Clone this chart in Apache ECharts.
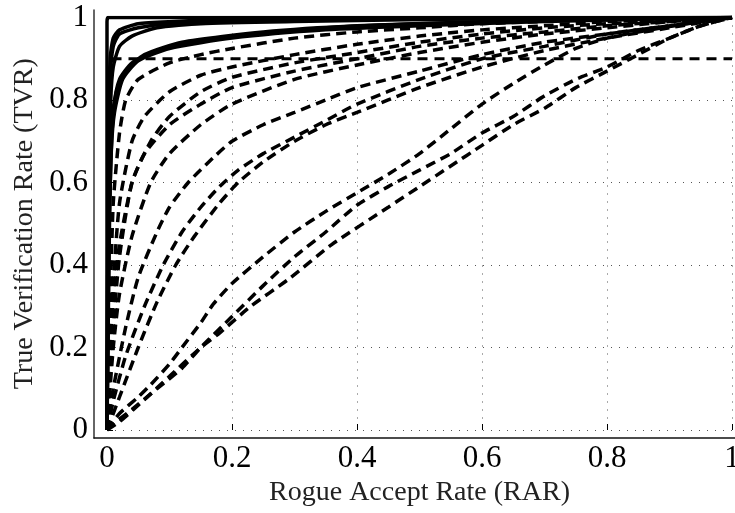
<!DOCTYPE html>
<html>
<head>
<meta charset="utf-8">
<script src="https://cdn.jsdelivr.net/npm/echarts@6/dist/echarts.min.js"></script>
<style>
  html, body { margin: 0; padding: 0; background: #fff; }
  #chart { width: 735px; height: 513px; }
</style>
</head>
<body>
<div id="chart"></div>
<script>
// Axis ticks and titles
const xTicks = [0, 0.2, 0.4, 0.6, 0.8, 1];
const yTicks = [0, 0.2, 0.4, 0.6, 0.8, 1];
const xTitle = 'Rogue Accept Rate (RAR)';
const yTitle = 'True Verification Rate (TVR)';

// Target verification level
const tvrTarget = [[-0.02, 0.9], [1, 0.9]];

// Solid ROC curves: [RAR, TVR]
const solid1 = [[0, 0], [0, 0.99], [0.002, 1], [0.5, 1], [1, 1]];
const solid2 = [[0, 0], [0.002, 0.7], [0.005, 0.9], [0.01, 0.95], [0.02, 0.97], [0.05, 0.985], [0.1, 0.99], [0.2, 0.995], [0.5, 0.998], [1, 1]];
const solid3 = [[0, 0], [0.002, 0.6], [0.005, 0.85], [0.01, 0.93], [0.02, 0.96], [0.05, 0.975], [0.1, 0.985], [0.2, 0.99], [0.4, 0.995], [1, 1]];
const solid4 = [[0, 0], [0.003, 0.6], [0.006, 0.8], [0.01, 0.88], [0.02, 0.93], [0.04, 0.955], [0.08, 0.975], [0.15, 0.985], [0.3, 0.99], [0.6, 0.997], [1, 1]];
const solid5 = [[0, 0], [0.003, 0.5], [0.006, 0.7], [0.01, 0.78], [0.02, 0.85], [0.04, 0.89], [0.08, 0.92], [0.13, 0.94], [0.24, 0.96], [0.37, 0.977], [0.5, 0.985], [0.7, 0.993], [1, 1]];
const solid6 = [[0, 0], [0.003, 0.45], [0.007, 0.68], [0.012, 0.77], [0.025, 0.85], [0.05, 0.895], [0.1, 0.925], [0.2, 0.95], [0.35, 0.97], [0.5, 0.98], [0.7, 0.99], [1, 1]];
const solid7 = [[0, 0], [0.004, 0.5], [0.008, 0.72], [0.015, 0.82], [0.03, 0.87], [0.06, 0.91], [0.12, 0.94], [0.25, 0.965], [0.4, 0.98], [0.6, 0.99], [1, 1]];

// Dashed ROC curves: [RAR, TVR]
const dashA1 = [[0, 0], [0.005, 0.3], [0.01, 0.55], [0.02, 0.72], [0.03, 0.8], [0.05, 0.85], [0.1, 0.89], [0.15, 0.91], [0.2, 0.925], [0.3, 0.95], [0.4, 0.965], [0.5, 0.975], [0.6, 0.985], [0.8, 0.995], [1, 1]];
const dashA2 = [[0, 0], [0.01, 0.35], [0.02, 0.55], [0.04, 0.7], [0.06, 0.76], [0.1, 0.82], [0.15, 0.86], [0.2, 0.88], [0.3, 0.91], [0.4, 0.935], [0.5, 0.955], [0.6, 0.97], [0.7, 0.98], [0.8, 0.99], [1, 1]];
const dashA3 = [[0, 0], [0.01, 0.25], [0.02, 0.42], [0.04, 0.6], [0.07, 0.7], [0.1, 0.76], [0.15, 0.82], [0.2, 0.855], [0.3, 0.89], [0.4, 0.915], [0.5, 0.94], [0.6, 0.96], [0.7, 0.975], [0.8, 0.985], [1, 1]];
const dashB1 = [[0, 0], [0.005, 0.2], [0.01, 0.32], [0.02, 0.45], [0.04, 0.6], [0.06, 0.67], [0.1, 0.74], [0.15, 0.79], [0.2, 0.83], [0.3, 0.87], [0.4, 0.9], [0.5, 0.93], [0.6, 0.95], [0.7, 0.965], [0.8, 0.98], [0.9, 0.99], [1, 1]];
const dashB2 = [[0, 0], [0.01, 0.2], [0.02, 0.33], [0.04, 0.47], [0.07, 0.6], [0.1, 0.67], [0.15, 0.74], [0.2, 0.79], [0.3, 0.85], [0.4, 0.885], [0.5, 0.915], [0.6, 0.94], [0.7, 0.96], [0.8, 0.975], [0.9, 0.99], [1, 1]];
const dashB3 = [[0, 0], [0.01, 0.1], [0.03, 0.25], [0.05, 0.37], [0.08, 0.48], [0.1, 0.54], [0.13, 0.6], [0.17, 0.66], [0.2, 0.7], [0.25, 0.74], [0.3, 0.77], [0.35, 0.8], [0.4, 0.83], [0.5, 0.87], [0.6, 0.91], [0.7, 0.94], [0.8, 0.96], [0.9, 0.98], [1, 1]];
const dashB4 = [[0, 0], [0.01, 0.07], [0.03, 0.18], [0.06, 0.3], [0.09, 0.4], [0.12, 0.48], [0.15, 0.54], [0.18, 0.59], [0.21, 0.63], [0.25, 0.67], [0.3, 0.71], [0.35, 0.75], [0.4, 0.79], [0.5, 0.85], [0.6, 0.9], [0.7, 0.93], [0.8, 0.96], [0.9, 0.98], [1, 1]];
const dashB5 = [[0, 0], [0.02, 0.08], [0.05, 0.2], [0.08, 0.31], [0.11, 0.4], [0.14, 0.47], [0.18, 0.55], [0.21, 0.6], [0.25, 0.65], [0.3, 0.7], [0.35, 0.74], [0.4, 0.77], [0.5, 0.83], [0.6, 0.88], [0.7, 0.92], [0.8, 0.95], [0.9, 0.975], [1, 1]];
const dashL1 = [[0, 0], [0.02, 0.04], [0.05, 0.08], [0.07, 0.11], [0.1, 0.16], [0.12, 0.2], [0.15, 0.26], [0.17, 0.305], [0.2, 0.355], [0.25, 0.42], [0.3, 0.48], [0.35, 0.53], [0.4, 0.575], [0.45, 0.62], [0.5, 0.67], [0.55, 0.73], [0.6, 0.79], [0.65, 0.84], [0.7, 0.885], [0.75, 0.925], [0.8, 0.95], [0.85, 0.965], [0.9, 0.978], [0.95, 0.99], [1, 1]];
const dashL2 = [[0, 0], [0.01, 0.015], [0.04, 0.05], [0.08, 0.1], [0.12, 0.15], [0.15, 0.2], [0.2, 0.275], [0.25, 0.35], [0.3, 0.42], [0.35, 0.48], [0.4, 0.545], [0.45, 0.59], [0.5, 0.63], [0.55, 0.67], [0.6, 0.72], [0.65, 0.76], [0.7, 0.81], [0.75, 0.85], [0.8, 0.88], [0.85, 0.92], [0.9, 0.95], [0.95, 0.98], [1, 1]];
const dashL3 = [[0, 0], [0.02, 0.02], [0.05, 0.06], [0.1, 0.13], [0.15, 0.2], [0.18, 0.235], [0.23, 0.3], [0.29, 0.365], [0.36, 0.45], [0.45, 0.54], [0.5, 0.59], [0.55, 0.64], [0.6, 0.69], [0.65, 0.74], [0.7, 0.78], [0.75, 0.83], [0.8, 0.87], [0.85, 0.91], [0.9, 0.95], [0.95, 0.98], [1, 1]];

const solidCurves = [solid1, solid2, solid3, solid4, solid5, solid6, solid7];
const dashedCurves = [dashA1, dashA2, dashA3, dashB1, dashB2, dashB3, dashB4, dashB5, dashL1, dashL2, dashL3];

const serif = 'Liberation Serif';

function curve(data, dashed) {
  return {
    type: 'line',
    xAxisIndex: 0,
    yAxisIndex: 0,
    data: data,
    showSymbol: false,
    smooth: 0.2,
    silent: true,
    animation: false,
    lineStyle: {
      color: '#000',
      width: 3.5,
      type: dashed ? [10, 6] : 'solid',
      cap: 'butt'
    }
  };
}

const series = [];
dashedCurves.forEach(d => series.push(curve(d, true)));
solidCurves.forEach(d => series.push(curve(d, false)));
// the 0.9 target line runs from the frame edge, so it is not clipped
series.push({
  type: 'line', xAxisIndex: 0, yAxisIndex: 0, data: tvrTarget,
  showSymbol: false, silent: true, animation: false, clip: false,
  lineStyle: { color: '#000', width: 3, type: [10, 7] }
});

const chart = echarts.init(document.getElementById('chart'), null, { renderer: 'canvas' });
chart.setOption({
  backgroundColor: '#fff',
  animation: false,
  grid: [
    { left: 107, right: 3, top: 17.5, bottom: 83, outerBoundsMode: 'none', containLabel: false },
    { left: 94, right: 0, top: 10, bottom: 75, outerBoundsMode: 'none', containLabel: false }
  ],
  xAxis: [
    {
      type: 'value', gridIndex: 0, min: 0, max: 1, interval: 0.2,
      position: 'bottom', offset: 8,
      axisLine: { show: false },
      axisTick: { show: true, inside: true, length: 6, lineStyle: { color: '#000', width: 1 } },
      axisLabel: {
        fontFamily: serif, fontSize: 31, color: '#000', margin: 5,
        formatter: v => (xTicks.includes(+v.toFixed(2)) ? String(+v.toFixed(2)) : '')
      },
      splitLine: { show: true, lineStyle: { color: '#555', width: 1, type: [1, 7] } },
      name: xTitle, nameLocation: 'middle', nameGap: 29,
      nameTextStyle: { fontFamily: serif, fontSize: 28, color: '#222' }
    },
    {
      type: 'value', gridIndex: 1, min: 0, max: 1, position: 'bottom',
      axisLine: { show: true, lineStyle: { color: '#111', width: 1.5 } },
      axisTick: { show: false }, axisLabel: { show: false }, splitLine: { show: false }
    }
  ],
  yAxis: [
    {
      type: 'value', gridIndex: 0, min: 0, max: 1, interval: 0.2,
      position: 'left', offset: 13,
      axisLine: { show: false },
      axisTick: { show: true, inside: true, length: 6, lineStyle: { color: '#000', width: 1 } },
      axisLabel: {
        fontFamily: serif, fontSize: 31, color: '#000', margin: 6,
        formatter: v => (yTicks.includes(+v.toFixed(2)) ? String(+v.toFixed(2)) : '')
      },
      splitLine: { show: true, lineStyle: { color: '#555', width: 1, type: [1, 7] } },
      name: yTitle, nameLocation: 'middle', nameRotate: 90, nameGap: 52,
      nameTextStyle: { fontFamily: serif, fontSize: 28, color: '#222' }
    },
    {
      type: 'value', gridIndex: 1, min: 0, max: 1, position: 'left',
      axisLine: { show: true, lineStyle: { color: '#333', width: 1.5 } },
      axisTick: { show: false }, axisLabel: { show: false }, splitLine: { show: false }
    }
  ],
  series: series
});
</script>
</body>
</html>
